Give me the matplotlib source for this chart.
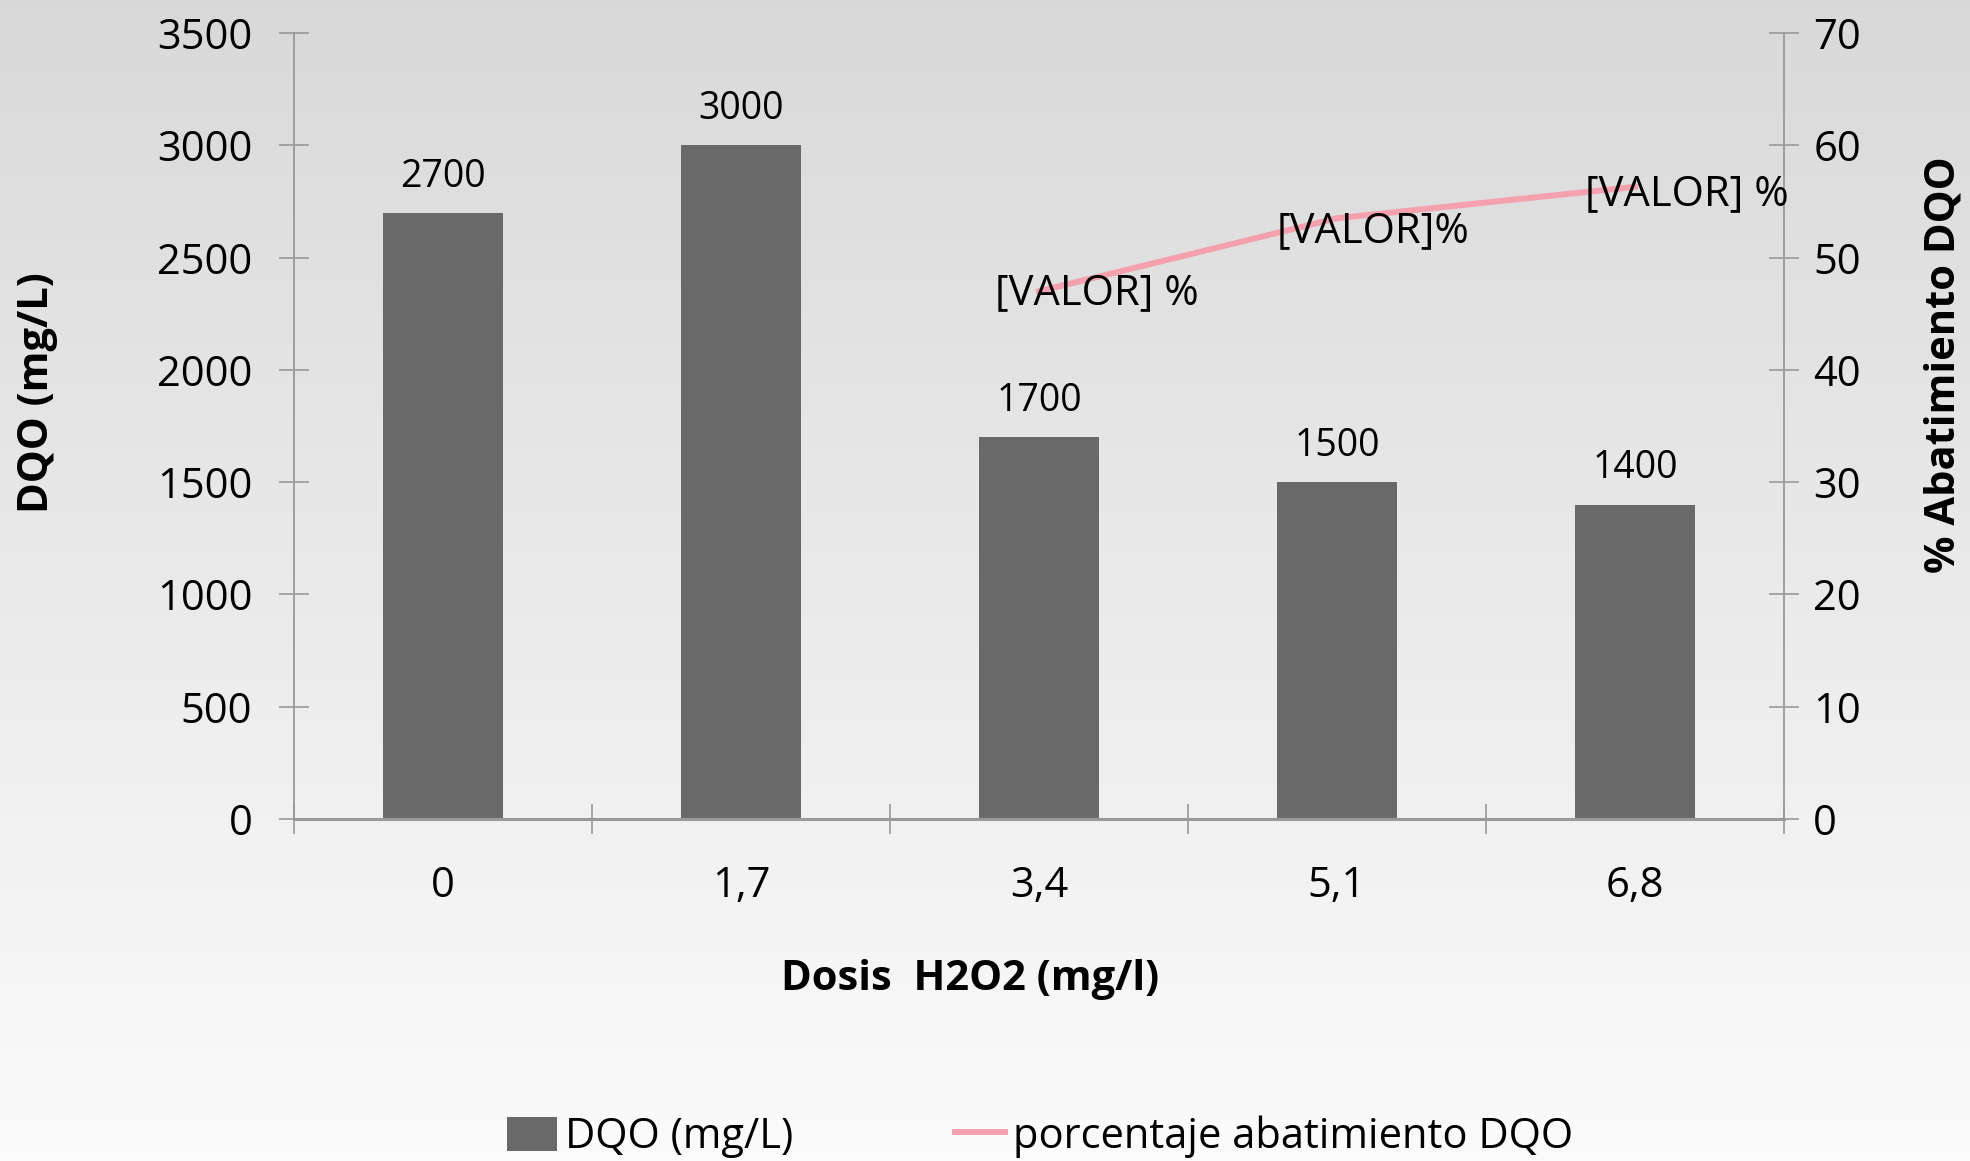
import numpy as np
import matplotlib
matplotlib.use("Agg")
import matplotlib.pyplot as plt
from matplotlib.lines import Line2D
from matplotlib.patches import Patch

categories = ["0", "1,7", "3,4", "5,1", "6,8"]
dqo = [2700, 3000, 1700, 1500, 1400]
pct_categories = ["3,4", "5,1", "6,8"]
pct_values = [47.0, 53.5, 56.3]
pct_labels = ["[VALOR] %", "[VALOR]%", "[VALOR] %"]

plt.rcParams['font.family'] = ['Open Sans', 'DejaVu Sans']

W, H = 1970, 1161
fig = plt.figure(figsize=(W / 100, H / 100), dpi=100)

# gradient background
bg = fig.add_axes([0, 0, 1, 1], zorder=-10)
grad = np.linspace(0.85, 0.985, 256)
img = np.repeat(grad[:, None], 2, axis=1)
bg.imshow(np.dstack([img, img, img]), aspect='auto', extent=[0, 1, 0, 1], origin='upper')
bg.axis('off')

ax = fig.add_axes([294 / W, 1 - 819 / H, (1784 - 294) / W, (819 - 33) / H])
ax.patch.set_alpha(0)
x = np.arange(len(categories))
ax.bar(x, dqo, width=0.4, color='#696969', zorder=2)
for xi, v in zip(x, dqo):
    ax.annotate(str(v), (xi, v), xytext=(0, 26), textcoords='offset points',
                ha='center', va='center', fontsize=27, color='black')

ax.set_ylim(0, 3500)
ax.set_xlim(-0.5, len(categories) - 0.5)
ax.set_yticks(np.arange(0, 3501, 500))
ax.set_xticks(np.arange(-0.5, len(categories), 1.0))
ax.set_xticklabels([])
ax.set_xticks(x, minor=True)
ax.set_xticklabels(categories, minor=True)
ax.tick_params(axis='x', which='minor', length=0, pad=33, labelsize=30)
ax.tick_params(axis='x', which='major', direction='inout', length=22, width=1.2, color='#999999')
ax.tick_params(axis='y', direction='inout', length=22, width=1.2, color='#999999', labelsize=30, pad=19)
for s in ['top', 'right']:
    ax.spines[s].set_visible(False)
ax.spines['left'].set_color('#999999')
ax.spines['left'].set_linewidth(1.3)
ax.spines['bottom'].set_color('#999999')
ax.spines['bottom'].set_linewidth(2.2)

ax2 = ax.twinx()
ax2.set_ylim(0, 70)
ax2.set_yticks(np.arange(0, 71, 10))
ax2.tick_params(axis='y', direction='inout', length=22, width=1.2, color='#999999', labelsize=30, pad=10)
for s in ['top', 'left', 'bottom']:
    ax2.spines[s].set_visible(False)
ax2.spines['right'].set_color('#999999')
ax2.spines['right'].set_linewidth(1.3)
px = [categories.index(c) for c in pct_categories]
ax2.plot(px, pct_values, color='#F4A0AE', linewidth=4.3, zorder=3)
offsets = [(42, -1), (26, -9), (37, -5)]
for xi, v, lab, off in zip(px, pct_values, pct_labels, offsets):
    ax2.annotate(lab, (xi, v), xytext=off, textcoords='offset points',
                 ha='center', va='center', fontsize=30, color='black')

fig.text(38 / W, 1 - 393 / H, 'DQO (mg/L)', rotation=90, ha='center', va='center',
         fontsize=30, fontweight='bold')
fig.text(1944 / W, 1 - 365 / H, '% Abatimiento DQO', rotation=90, ha='center', va='center',
         fontsize=30, fontweight='bold')
fig.text(970 / W, 1 - 979 / H, 'Dosis  H2O2 (mg/l)', ha='center', va='center',
         fontsize=30, fontweight='bold')

handles = [Patch(facecolor='#696969', edgecolor='none'),
           Line2D([0], [0], color='#F4A0AE', linewidth=4.3)]
fig.legend(handles, ['DQO (mg/L)', 'porcentaje abatimiento DQO'],
           loc='center', bbox_to_anchor=(1040 / W, 1 - 1137 / H), ncol=2,
           frameon=False, fontsize=30, handlelength=1.2, handleheight=0.9,
           handletextpad=0.18, columnspacing=3.9)

fig.savefig('out.png', dpi=100)
